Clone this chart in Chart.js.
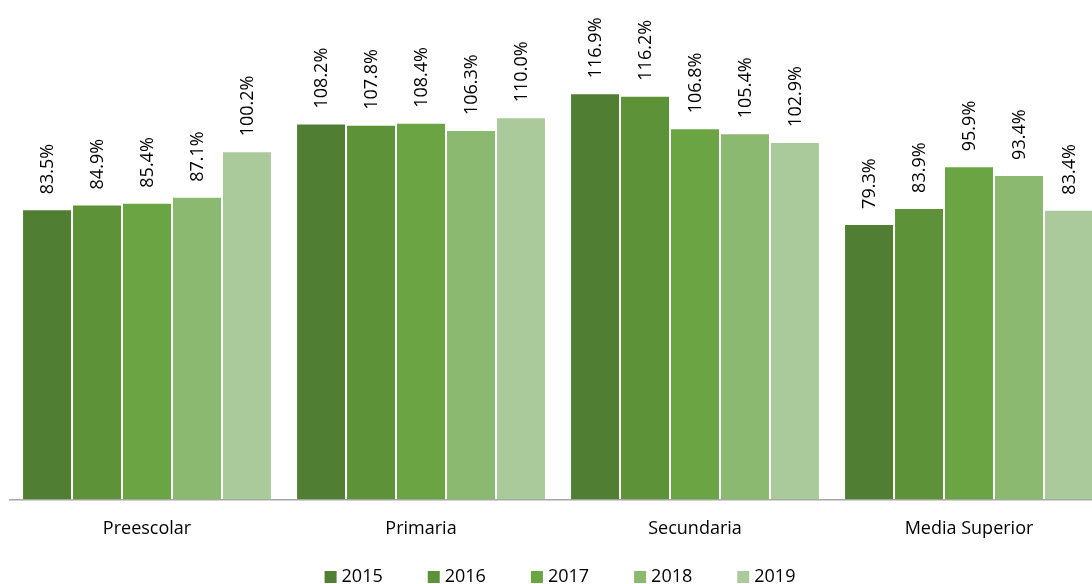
<!DOCTYPE html>
<html>
<head>
<meta charset="utf-8">
<script src="https://cdn.jsdelivr.net/npm/chart.js@4"></script>
<style>
    html, body { margin: 0; padding: 0; background: #fff; overflow: hidden; }
    #wrap { width: 1124px; height: 584px; }
</style>
</head>
<body>
<div id="wrap"><canvas id="coverageChart"></canvas></div>
<script>
const categories = ['Preescolar', 'Primaria', 'Secundaria', 'Media Superior']
const years = ['2015', '2016', '2017', '2018', '2019']
const values2015 = [83.5, 108.2, 116.9, 79.3]
const values2016 = [84.9, 107.8, 116.2, 83.9]
const values2017 = [85.4, 108.4, 106.8, 95.9]
const values2018 = [87.1, 106.3, 105.4, 93.4]
const values2019 = [100.2, 110.0, 102.9, 83.4]
const colors = ['#507e32', '#5e9239', '#6aa443', '#8ab96f', '#abca9c']

const seriesValues = [values2015, values2016, values2017, values2018, values2019]
const fontFamily = '"Open Sans", sans-serif'

// vertical value labels above each bar
const barLabels = {
    id: 'barLabels',
    afterDatasetsDraw(chart) {
        const { ctx } = chart
        ctx.save()
        ctx.fillStyle = '#000'
        ctx.font = '18px ' + fontFamily
        ctx.textAlign = 'left'
        ctx.textBaseline = 'middle'
        chart.data.datasets.forEach((ds, i) => {
            chart.getDatasetMeta(i).data.forEach((bar, j) => {
                ctx.save()
                ctx.translate(bar.x + 1, bar.y - 15)
                ctx.rotate(-Math.PI / 2)
                ctx.fillText(ds.data[j].toFixed(1) + '%', 0, 0)
                ctx.restore()
            })
        })
        ctx.restore()
    }
}

// bottom legend with wide gaps (built-in one ties vertical space to the gap)
const bottomLegend = {
    id: 'bottomLegend',
    afterDraw(chart) {
        const { ctx } = chart
        const box = 12
        const gap = 45
        const y = 577
        ctx.save()
        ctx.font = '18px ' + fontFamily
        ctx.textBaseline = 'middle'
        ctx.textAlign = 'left'
        const items = chart.data.datasets.map((ds) => ({
            text: ds.label,
            color: ds.backgroundColor,
            w: box + 5 + ctx.measureText(ds.label).width
        }))
        const total = items.reduce((s, it) => s + it.w, 0) + gap * (items.length - 1)
        let x = chart.width / 2 - total / 2 - 2
        items.forEach((it) => {
            ctx.fillStyle = it.color
            ctx.fillRect(x, y - box / 2, box, box)
            ctx.fillStyle = '#000'
            ctx.fillText(it.text, x + box + 5, y)
            x += it.w + gap
        })
        ctx.restore()
    }
}

const chart = new Chart(document.getElementById('coverageChart'), {
    type: 'bar',
    data: {
        labels: categories,
        datasets: years.map((year, i) => ({
            label: year,
            data: seriesValues[i],
            backgroundColor: colors[i],
            borderColor: 'rgba(255,255,255,0.3)',
            borderWidth: 1,
            barPercentage: 1,
            categoryPercentage: 0.912
        }))
    },
    options: {
        responsive: true,
        maintainAspectRatio: false,
        animation: false,
        layout: { padding: { top: 13, left: 10, right: 18, bottom: 25 } },
        scales: {
            x: {
                grid: { display: false, drawTicks: false },
                border: { display: true, color: '#a6a6a6', width: 1.5 },
                ticks: {
                    color: '#000',
                    padding: 19,
                    font: { family: fontFamily, size: 18 }
                }
            },
            y: {
                display: false,
                min: 0,
                max: 140
            }
        },
        plugins: {
            legend: { display: false },
            tooltip: { enabled: false }
        }
    },
    plugins: [barLabels, bottomLegend]
})
</script>
</body>
</html>
